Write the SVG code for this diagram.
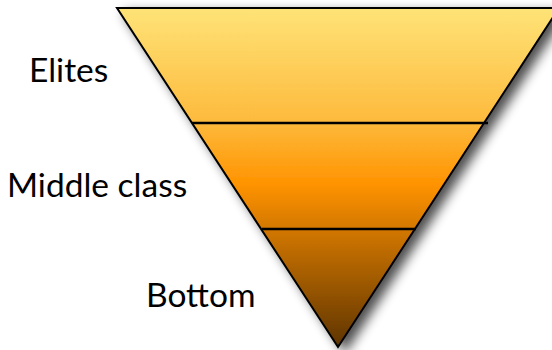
<svg xmlns="http://www.w3.org/2000/svg" width="552" height="350" viewBox="0 0 552 350">
<defs>
<linearGradient id="g" x1="0" y1="8" x2="0" y2="347" gradientUnits="userSpaceOnUse">
<stop offset="0" stop-color="#FEE377"/>
<stop offset="0.33" stop-color="#FDBB3E"/>
<stop offset="0.52" stop-color="#FF9300"/>
<stop offset="0.66" stop-color="#D07600"/>
<stop offset="1" stop-color="#5E3400"/>
</linearGradient>
<filter id="sh" x="-20%" y="-20%" width="140%" height="140%">
<feGaussianBlur in="SourceAlpha" stdDeviation="6"/>
<feOffset dx="7" dy="5" result="b"/>
<feComponentTransfer><feFuncA type="linear" slope="0.7"/></feComponentTransfer>
<feMerge><feMergeNode/><feMergeNode in="SourceGraphic"/></feMerge>
</filter>
<style>
.lbl{font-family:Lato,"Open Sans","Liberation Sans",sans-serif;font-size:33.5px;fill:#000}
.ln{stroke:#000;stroke-width:2.5;fill:none}
</style>
</defs>
<g id="pyramid">
<polygon points="117,8 559,8 338,347" fill="url(#g)" stroke="#000" stroke-width="2" filter="url(#sh)"/>
<line class="ln" x1="192" y1="123" x2="488" y2="123"/>
<line class="ln" x1="262" y1="229" x2="416" y2="229"/>
</g>
<g id="elites"><text class="lbl" x="29" y="82">Elites</text></g>
<g id="middle"><text class="lbl" x="7" y="197">Middle class</text></g>
<g id="bottom"><text class="lbl" x="146" y="307">Bottom</text></g>
</svg>
